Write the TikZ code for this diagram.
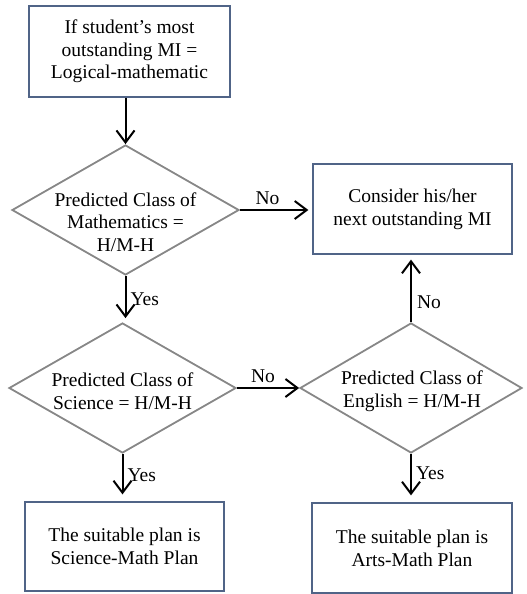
\documentclass[tikz,border=0pt]{standalone}
\usepackage{fontspec}
\setmainfont{Liberation Serif}
\usetikzlibrary{shapes.geometric,arrows.meta}
\definecolor{boxblue}{RGB}{80,100,135}
\definecolor{diagray}{RGB}{135,135,135}
\begin{document}
\begin{tikzpicture}[x=1pt,y=-1pt,
  txt/.style={font=\fontsize{19.5}{22.7}\selectfont, align=center},
  box/.style={draw=boxblue, line width=1.3pt, inner sep=0pt, txt},
  decision/.style={diamond, draw=diagray, line width=1.8pt, inner sep=0pt},
  flow/.style={-{Straight Barb[length=12pt,width=18pt,line width=2pt]}, line width=2pt},
  lbl/.style={txt, inner sep=1pt}
]
\useasboundingbox (0,0) rectangle (527,594);

% process boxes
\node[box, minimum width=201pt, minimum height=91pt] (start) at (129.5,51.5)
  {If student’s most\\outstanding MI =\\Logical-mathematic};
\node[box, minimum width=199pt, minimum height=90pt] (next) at (412.5,209)
  {Consider his/her\\next outstanding MI};
\node[box, minimum width=199pt, minimum height=89pt] (scimath) at (124.5,546.5)
  {The suitable plan is\\Science-Math Plan};
\node[box, minimum width=200pt, minimum height=90pt] (artsmath) at (412,548)
  {The suitable plan is\\Arts-Math Plan};

% decisions
\node[decision, minimum width=227pt, minimum height=130pt] (math) at (125.5,210) {};
\node[txt] (mathq) at (125.5,222) {Predicted Class of\\Mathematics =\\H/M-H};
\node[decision, minimum width=227pt, minimum height=130pt] (sci) at (122.5,388) {};
\node[txt] (sciq) at (122.5,391) {Predicted Class of\\Science = H/M-H};
\node[decision, minimum width=222pt, minimum height=130pt] (eng) at (411,388) {};
\node[txt] (engq) at (412,391) {Predicted Class of\\English = H/M-H};

% connectors
\draw[flow] (math.north |- start.south) -- (math.north);
\draw[flow, shorten >=4pt] (math.east) -- node[lbl, above=3pt, pos=0.38] (no1) {No} (math.east -| next.west);
\draw[flow, shorten >=4pt] (math.south) -- node[lbl, right=3pt, pos=0.5] (yes1) {Yes} (math.south |- sci.north);
\draw[flow] (sci.east) -- node[lbl, above=3pt, pos=0.42] (no2) {No} (eng.west);
\draw[flow, shorten >=5pt] (eng.north) -- node[lbl, right=4pt, pos=0.3] (no3) {No} (eng.north |- next.south);
\draw[flow, shorten >=7pt] (sci.south) -- node[lbl, right=3pt, pos=0.45] (yes2) {Yes} (sci.south |- scimath.north);
\draw[flow, shorten >=7pt] (eng.south) -- node[lbl, right=3pt, pos=0.4] (yes3) {Yes} (eng.south |- artsmath.north);
\end{tikzpicture}
\end{document}
